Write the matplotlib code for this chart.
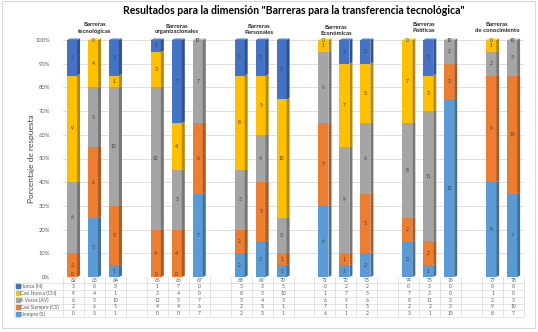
import numpy as np
import matplotlib.pyplot as plt
from matplotlib.transforms import blended_transform_factory
from matplotlib.colors import to_rgb
from matplotlib.patches import Rectangle

plt.rcParams['font.family'] = ['Lato', 'DejaVu Sans']

# ---------------------------------------------------------------------------
# Data (number of answers per item, 20 respondents each)
# ---------------------------------------------------------------------------
categories = ["62", "63", "64", "65", "66", "67", "68", "69", "70",
              "71", "72", "73", "74", "75", "76", "77", "78"]
group_names = ["Barreras\ntecnológicas", "Barreras\norganizacionales",
               "Barreras\nPersonales", "Barreras\nEconómicas",
               "Barreras\nPolíticas", "Barreras\nde conocimiento"]
group_sizes = [3, 3, 3, 3, 3, 2]

series_names = ["Nunca (N)", "Casi Nunca (CN)", "A Veces (AV)",
                "Casi Siempre (CS)", "Siempre (S)"]
nunca = [3, 0, 3, 1, 7, 0, 3, 3, 5, 0, 2, 2, 0, 3, 0, 0, 0]
casi_nunca = [9, 4, 1, 3, 4, 0, 8, 5, 10, 1, 7, 5, 7, 3, 0, 1, 0]
a_veces = [6, 5, 10, 12, 5, 7, 5, 4, 3, 6, 9, 6, 8, 11, 2, 2, 3]
casi_siempre = [2, 6, 5, 4, 4, 6, 2, 5, 1, 7, 1, 5, 2, 2, 3, 9, 10]
siempre = [0, 5, 1, 0, 0, 7, 2, 3, 1, 6, 1, 2, 3, 1, 15, 8, 7]

series_colors = ["#4472C4", "#FFC000", "#A5A5A5", "#ED7D31", "#5B9BD5"]

# ---------------------------------------------------------------------------
# Layout helpers
# ---------------------------------------------------------------------------
W, H = 538, 332
AX_L, AX_R, AX_T, AX_B = 63, 524, 40, 277   # pixels

positions = []
slot = 0
for size in group_sizes:
    positions.extend(range(slot, slot + size))
    slot += size + 1
n_slots = slot - 1
positions = np.array(positions, dtype=float)
slot_px = (AX_R - AX_L) / n_slots


def px_x(p):
    # pixel x -> data x
    return (p - AX_L) / slot_px - 0.5


def px_y(p):
    # pixels below the axis -> axes fraction
    return -p / (AX_B - AX_T)


series = [nunca, casi_nunca, a_veces, casi_siempre, siempre]
values = np.array(series, dtype=float)
totals = values.sum(axis=0)
pct = values / totals * 100

fig = plt.figure(figsize=(W / 100, H / 100), dpi=100)
ax = fig.add_axes([AX_L / W, 1 - AX_B / H, (AX_R - AX_L) / W, (AX_B - AX_T) / H])

bar_w = 0.48
depth = 3 / slot_px
dy = 1.5 / (AX_B - AX_T) * 100
shift = -0.07
xl = positions + shift - bar_w / 2
xr = positions + shift + bar_w / 2

# stack from the bottom: Siempre first, Nunca last
bottom = np.zeros(len(categories))
top_color = [None] * len(categories)
for k in range(len(series) - 1, -1, -1):
    h = pct[k]
    c = series_colors[k]
    dark = tuple(np.array(to_rgb(c)) * 0.72)
    ax.bar(positions + shift, h, width=bar_w, bottom=bottom, color=c,
           zorder=3, linewidth=0)
    for i in range(len(categories)):
        b = bottom[i]
        if h[i] > 0:
            ax.fill([xr[i], xr[i] + depth, xr[i] + depth, xr[i]],
                    [b, b + dy, b + h[i] + dy, b + h[i]],
                    color=dark, zorder=3, linewidth=0, clip_on=False)
            top_color[i] = c
        ylab = b + h[i] / 2
        if h[i] == 0 and b == 0:
            ylab = 1.2   # keep the zero label inside the plot
        ax.text(positions[i] + shift, ylab, str(int(values[k, i])),
                ha='center', va='center', fontsize=3.6, color='#404040',
                zorder=5)
    bottom = bottom + h

# top faces
for i in range(len(categories)):
    light = tuple(np.minimum(np.array(to_rgb(top_color[i])) * 1.15, 1))
    ax.fill([xl[i], xl[i] + depth, xr[i] + depth, xr[i]],
            [100, 100 + dy, 100 + dy, 100],
            color=light, zorder=3, linewidth=0, clip_on=False)

ax.set_xlim(-0.5, n_slots - 0.5)
ax.set_ylim(0, 100)
ax.set_yticks(np.arange(0, 101, 10))
ax.set_yticklabels([f"{t}%" for t in range(0, 101, 10)])
ax.tick_params(axis='y', length=0, pad=9, labelsize=4.2, labelcolor='#595959')
ax.set_xticks([])
ax.grid(axis='y', color='#D9D9D9', linewidth=0.6, zorder=0)
ax.set_axisbelow(True)
for s in ax.spines.values():
    s.set_visible(False)

# group headers above the bars
label_px_shift = [0, -1, -3, -10, -6, -6]
label_px_y = [28, 29, 29.5, 30, 28, 27]
start = 0
for g, size in enumerate(group_sizes):
    center = positions[start:start + size].mean() + label_px_shift[g] / slot_px
    ax.text(center, 1 + (AX_T - label_px_y[g]) / (AX_B - AX_T), group_names[g],
            transform=blended_transform_factory(ax.transData, ax.transAxes),
            ha='center', va='center', fontsize=4.3, fontweight='bold',
            color='#262626', linespacing=1.25)
    start += size

# data table under the chart
trans = blended_transform_factory(ax.transData, ax.transAxes)
line_kw = dict(color='#D9D9D9', linewidth=0.5, transform=trans, clip_on=False)
row_step = 6.9
row_top = 5.8
table_bottom = row_top + row_step * len(series)
leg_left = px_x(14)

for p in np.arange(-0.5, n_slots, 1.0):
    ax.plot([p, p], [0, px_y(table_bottom)], **line_kw)
ax.plot([leg_left, leg_left], [px_y(row_top), px_y(table_bottom)], **line_kw)
for k in range(len(series) + 1):
    yy = px_y(row_top + row_step * k)
    ax.plot([leg_left, n_slots - 0.5], [yy, yy], **line_kw)

for i, cat in enumerate(categories):
    ax.text(positions[i], px_y(3.0), cat, transform=trans, ha='center',
            va='center', fontsize=3.6, color='#595959')

for k, name in enumerate(series_names):
    yc = px_y(row_top + row_step * (k + 0.5))
    ax.plot([px_x(17.5)], [yc], marker='s', markersize=2.2, linestyle='none',
            color=series_colors[k], transform=trans, clip_on=False)
    ax.text(px_x(20.5), yc, name, transform=trans, ha='left', va='center',
            fontsize=3.6, color='#595959')
    for i in range(len(categories)):
        ax.text(positions[i], yc, str(int(values[k, i])), transform=trans,
                ha='center', va='center', fontsize=3.6, color='#595959')

ax.set_ylabel("Porcentaje de respuesta", fontsize=6, color='#404040')
ax.yaxis.set_label_coords(35 / W, 0.5, transform=blended_transform_factory(
    fig.transFigure, ax.transAxes))

fig.text(294 / W, 1 - 10 / H,
         'Resultados para la dimensión "Barreras para la transferencia tecnológica"',
         ha='center', va='center', fontsize=7.6, fontweight='bold', color='#000000')

fig.patches.append(Rectangle((0.004, 0.012), 0.991, 0.985, transform=fig.transFigure,
                             fill=False, edgecolor='#D9D9D9', linewidth=0.8))

fig.savefig("out.png", dpi=100)
